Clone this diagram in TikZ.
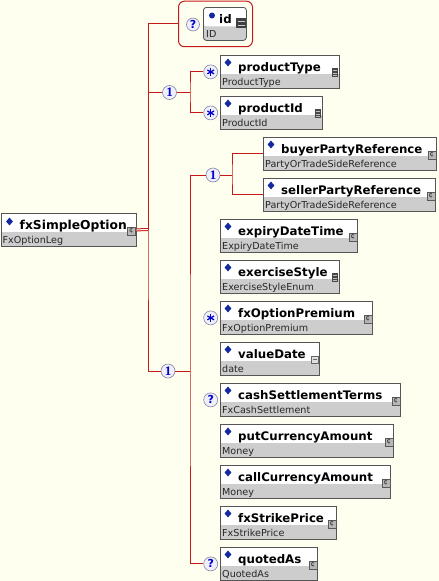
\documentclass[tikz,border=0pt]{standalone}
\usepackage{fontspec}
\setmainfont{DejaVu Sans}
\newfontfamily\cardserif{Liberation Serif}
\usetikzlibrary{positioning,shapes.geometric}

\definecolor{bgcream}{RGB}{255,255,240}
\definecolor{lred}{RGB}{200,25,25}
\definecolor{boxgray}{RGB}{205,205,205}
\definecolor{edgegray}{RGB}{85,85,85}
\definecolor{dblue}{RGB}{20,40,160}
\definecolor{cfill}{RGB}{240,240,250}
\definecolor{cedge}{RGB}{130,130,170}
\definecolor{cblue}{RGB}{0,0,210}

\begin{document}
\begin{tikzpicture}[
    x=1pt, y=1pt,
    elem/.style={draw=edgegray, line width=0.8pt, fill=boxgray, minimum height=33pt, inner sep=0pt, anchor=north west,
        path picture={\fill[white] (path picture bounding box.north west) rectangle ([yshift=-19pt]path picture bounding box.north east);}},
    dia/.style={diamond, fill=dblue, inner sep=0pt, minimum width=7pt, minimum height=8pt},
    ename/.style={anchor=base west, inner sep=0pt, font=\fontsize{11.8}{12}\selectfont\bfseries},
    rootname/.style={ename, font=\fontsize{12.3}{13}\selectfont\bfseries},
    etype/.style={anchor=base west, inner sep=0pt, font=\fontsize{9.6}{10}\selectfont, text=black!85},
    cicon/.style={draw=black!65, fill=black!28, line width=0.5pt, inner sep=0pt, minimum size=8pt,
        font=\fontsize{7}{7}\selectfont, text=black!85, execute at begin node={¢}},
    sicon/.style={fill=black!72, inner sep=0pt, minimum width=6pt, minimum height=9pt,
        path picture={\draw[black!25, line width=0.7pt]
            ([shift={(1,2.5)}]path picture bounding box.west) -- ([shift={(-1,2.5)}]path picture bounding box.east)
            ([shift={(1,0)}]path picture bounding box.west) -- ([shift={(-1,0)}]path picture bounding box.east)
            ([shift={(1,-2.5)}]path picture bounding box.west) -- ([shift={(-1,-2.5)}]path picture bounding box.east);}},
    dicon/.style={draw=black!60, fill=black!12, line width=0.5pt, inner sep=0pt, minimum size=7pt,
        path picture={\draw[black!60, line width=0.6pt] ([shift={(1.5,0.5)}]path picture bounding box.west) -- ([shift={(-1.5,0.5)}]path picture bounding box.east);}},
    eqicon/.style={fill=black!75, inner sep=0pt, minimum width=10pt, minimum height=10pt,
        path picture={\draw[black!20, line width=1pt]
            ([shift={(1.5,1.8)}]path picture bounding box.west) -- ([shift={(-1.5,1.8)}]path picture bounding box.east)
            ([shift={(1.5,-1.8)}]path picture bounding box.west) -- ([shift={(-1.5,-1.8)}]path picture bounding box.east);}},
    card/.style={circle, draw=cedge, fill=cfill, line width=0.6pt, inner sep=0pt, minimum size=14pt,
        text=cblue, font=\fontsize{11}{11}\selectfont\bfseries},
    seqcard/.style={card, font=\fontsize{13}{13}\selectfont\cardserif\bfseries},
    mult/.style={card, path picture={\foreach \a in {90,30,-30}
        \draw[cblue, line width=1.3pt] ([shift={(\a:3.8pt)}]path picture bounding box.center) -- ([shift={(\a:-3.8pt)}]path picture bounding box.center);}},
    idgrp/.style={draw=lred, line width=1pt, rounded corners=6pt, anchor=north west, minimum width=74pt, minimum height=45.5pt, inner sep=0pt},
    conn/.style={draw=lred, line width=1pt}
]
% background and page size
\fill[bgcream] (0,0) rectangle (439,-581);
\useasboundingbox (0,0) rectangle (439,-581);

% root element
\node[elem, minimum width=135] (opt) at (0.5,-213) {};
\node[dia] (opt-dia) at ([shift={(9,-8.5)}]opt.north west) {};
\node[rootname] (opt-name) at ([shift={(19,-16)}]opt.north west) {fxSimpleOption};
\node[etype] (opt-type) at ([shift={(2,-30)}]opt.north west) {FxOptionLeg};
\node[cicon] (opt-icon) at ([shift={(-5,-1)}]opt.east) {};

% child element boxes: name/label/type/left/top/width/icon
\foreach \nm/\lab/\typ/\bx/\by/\bw/\ic in {
    ptype/productType/ProductType/220/55/119/sicon,
    pid/productId/ProductId/220/96/102/sicon,
    buyer/buyerPartyReference/PartyOrTradeSideReference/263/137/173/cicon,
    seller/sellerPartyReference/PartyOrTradeSideReference/263/178/172/cicon,
    expiry/expiryDateTime/ExpiryDateTime/220/219/137/cicon,
    exstyle/exerciseStyle/ExerciseStyleEnum/220/260/119/sicon,
    premium/fxOptionPremium/FxOptionPremium/220/301/152/cicon,
    vdate/valueDate/date/220/342/99/dicon,
    cashst/cashSettlementTerms/FxCashSettlement/220/383/180/cicon,
    putamt/putCurrencyAmount/Money/220/424/173/cicon,
    callamt/callCurrencyAmount/Money/220/465/170/cicon,
    strike/fxStrikePrice/FxStrikePrice/220/506/116/cicon,
    quoted/quotedAs/QuotedAs/220/547/97/cicon}{
    \node[elem, minimum width=\bw] (\nm) at (\bx,-\by) {};
    \node[dia] (\nm-dia) at ([shift={(8,-7.5)}]\nm.north west) {};
    \node[ename] (\nm-name) at ([shift={(18,-16.5)}]\nm.north west) {\lab};
    \node[etype] (\nm-type) at ([shift={(2,-30)}]\nm.north west) {\typ};
    \node[\ic] (\nm-icon) at ([shift={(-5,-1)}]\nm.east) {};
}

% optional id attribute group
\node[idgrp] (idgrp) at (178,-0.7) {};
\node[card, minimum size=13pt] (idq) at (193,-24.5) {?};
\node[elem, rounded corners=3pt, minimum width=43] (idbox) at (203,-7) {};
\node[circle, fill=dblue, inner sep=0pt, minimum size=6pt] (idbullet) at ([shift={(9,-8.5)}]idbox.north west) {};
\node[ename] (idname) at ([shift={(16,-16)}]idbox.north west) {id};
\node[etype] (idtype) at ([shift={(3,-30)}]idbox.north west) {ID};
\node[eqicon] (idicon) at ([shift={(-5.5,0.5)}]idbox.east) {};

% compositors and cardinalities
\node[seqcard] (seqtop) at (169.5,-92.5) {1};
\node[mult, left=2pt of ptype] (ptq) {};
\node[mult, left=2pt of pid] (pidq) {};
\node[seqcard] (choice) at (213,-175) {1};
\node[seqcard] (seqbot) at (168,-371) {1};
\node[mult, left=2pt of premium] (premq) {};
\node[card, left=2pt of cashst] (cashq) {?};
\node[card, left=2pt of quoted] (quotq) {?};

% junctions
\coordinate (hub) at (148,-229.5);
\coordinate (jtop) at (190,-92.5);
\coordinate (jchoice) at (232,-175);
\coordinate (jbot) at (190,-371);

% connectors
\draw[conn, double=bgcream, double distance=1pt] (opt.east) -- (hub);
\draw[conn] (idgrp.west) -| (hub) |- (seqbot.west);
\draw[conn] (hub) |- (seqtop.west);
\draw[conn] (seqtop) -- (jtop);
\draw[conn] (ptq.west) -| (jtop) |- (pidq.west);
\draw[conn] (seqbot) -- (jbot);
\draw[conn] (choice.west) -| (jbot) |- (quotq.west);
\draw[conn] (choice) -- (jchoice);
\draw[conn] (buyer.west) -| (jchoice) |- (seller.west);
\end{tikzpicture}
\end{document}
